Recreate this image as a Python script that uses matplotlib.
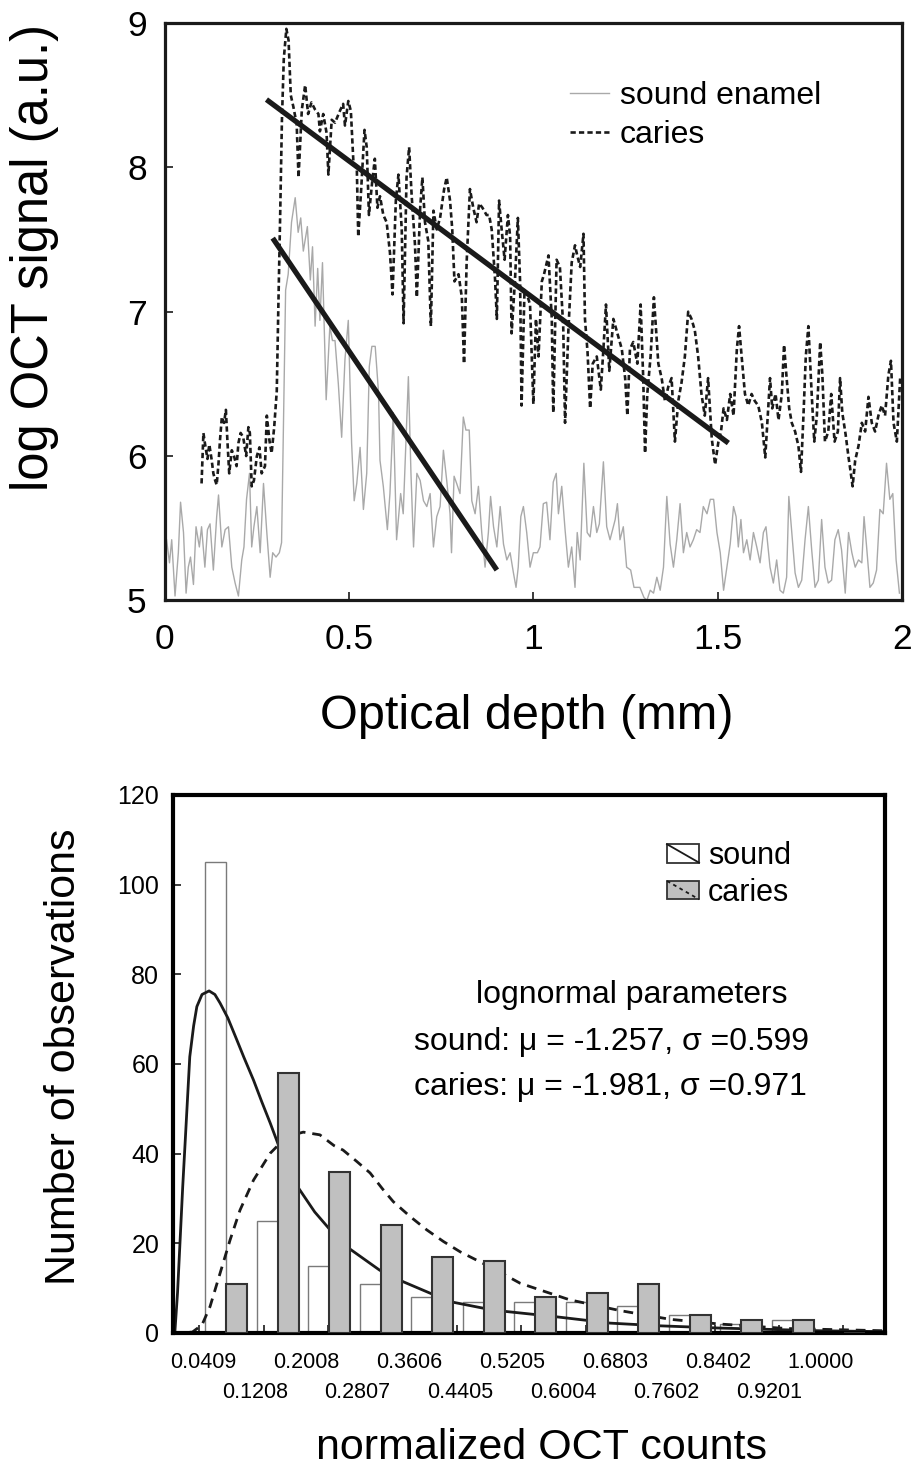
import numpy as np
import matplotlib
matplotlib.use("Agg")
import matplotlib.pyplot as plt
from matplotlib.patches import Rectangle, Patch
from matplotlib.lines import Line2D
from matplotlib.legend_handler import HandlerBase
from matplotlib.transforms import blended_transform_factory

plt.rcParams['font.family'] = ['Liberation Sans', 'DejaVu Sans']

# ---- top panel: OCT depth profiles ----
sound_depth = [0.005, 0.013, 0.019, 0.028, 0.037, 0.043, 0.051, 0.058, 0.064, 0.070,
               0.078, 0.085, 0.094, 0.100, 0.109, 0.116, 0.123, 0.132, 0.141, 0.146,
               0.155, 0.164, 0.173, 0.182, 0.191, 0.200, 0.209, 0.215, 0.222, 0.230,
               0.236, 0.242, 0.250, 0.259, 0.268, 0.277, 0.286, 0.293, 0.302, 0.311,
               0.317, 0.322, 0.328, 0.335, 0.344, 0.354, 0.362, 0.369, 0.376, 0.387,
               0.395, 0.401, 0.408, 0.415, 0.421, 0.428, 0.438, 0.448, 0.455, 0.462,
               0.471, 0.480, 0.489, 0.498, 0.507, 0.514, 0.521, 0.530, 0.539, 0.548,
               0.555, 0.562, 0.571, 0.580, 0.584, 0.593, 0.604, 0.611, 0.620, 0.629,
               0.640, 0.647, 0.661, 0.668, 0.675, 0.684, 0.693, 0.702, 0.711, 0.720,
               0.729, 0.738, 0.747, 0.756, 0.765, 0.774, 0.778, 0.785, 0.792, 0.801,
               0.810, 0.817, 0.826, 0.833, 0.842, 0.851, 0.860, 0.869, 0.878, 0.884,
               0.892, 0.901, 0.910, 0.919, 0.928, 0.937, 0.946, 0.953, 0.959, 0.966,
               0.973, 0.982, 0.991, 1.000, 1.011, 1.018, 1.027, 1.036, 1.045, 1.054,
               1.062, 1.068, 1.077, 1.086, 1.095, 1.104, 1.113, 1.119, 1.127, 1.137,
               1.146, 1.154, 1.163, 1.172, 1.179, 1.190, 1.199, 1.208, 1.222, 1.228,
               1.235, 1.244, 1.253, 1.264, 1.273, 1.289, 1.300, 1.308, 1.317, 1.326,
               1.335, 1.344, 1.353, 1.362, 1.371, 1.380, 1.389, 1.398, 1.407, 1.416,
               1.425, 1.434, 1.443, 1.452, 1.461, 1.471, 1.480, 1.489, 1.498, 1.507,
               1.516, 1.525, 1.534, 1.543, 1.550, 1.556, 1.563, 1.570, 1.579, 1.588,
               1.597, 1.606, 1.615, 1.624, 1.631, 1.642, 1.651, 1.660, 1.669, 1.678,
               1.687, 1.693, 1.701, 1.710, 1.719, 1.728, 1.737, 1.746, 1.755, 1.764,
               1.773, 1.782, 1.791, 1.800, 1.809, 1.818, 1.827, 1.836, 1.846, 1.855,
               1.864, 1.873, 1.882, 1.891, 1.897, 1.904, 1.913, 1.922, 1.931, 1.940,
               1.949, 1.958, 1.967, 1.975, 1.984, 1.993]
sound_signal = [5.42, 5.26, 5.42, 5.03, 5.33, 5.68, 5.47, 5.05, 5.23, 5.30,
                5.11, 5.51, 5.37, 5.51, 5.23, 5.49, 5.53, 5.21, 5.58, 5.73,
                5.37, 5.49, 5.51, 5.23, 5.12, 5.03, 5.28, 5.37, 5.70, 5.88,
                5.37, 5.51, 5.65, 5.33, 5.81, 5.47, 5.16, 5.33, 5.30, 5.33,
                5.40, 6.20, 7.15, 7.26, 7.62, 7.79, 7.55, 7.65, 7.42, 7.59,
                7.22, 7.45, 6.90, 7.30, 6.94, 7.34, 6.39, 6.90, 6.80, 6.80,
                6.50, 6.13, 6.67, 6.94, 6.09, 5.69, 5.81, 6.06, 5.63, 5.88,
                6.62, 6.76, 6.76, 6.44, 5.97, 5.79, 5.49, 5.74, 6.30, 5.42,
                5.74, 5.60, 6.55, 5.88, 5.37, 5.88, 5.83, 5.69, 5.65, 5.74,
                5.37, 5.58, 5.65, 6.04, 5.83, 5.60, 5.33, 5.86, 5.81, 5.74,
                6.27, 6.18, 6.18, 5.69, 5.60, 5.79, 5.47, 5.23, 5.47, 5.72,
                5.51, 5.37, 5.65, 5.39, 5.28, 5.33, 5.19, 5.09, 5.23, 5.58,
                5.65, 5.47, 5.23, 5.33, 5.33, 5.37, 5.67, 5.68, 5.42, 5.82,
                5.88, 5.60, 5.79, 5.49, 5.23, 5.37, 5.09, 5.47, 5.28, 5.95,
                5.47, 5.44, 5.65, 5.47, 5.53, 5.96, 5.51, 5.42, 5.56, 5.67,
                5.42, 5.51, 5.23, 5.21, 5.09, 5.09, 5.02, 5.00, 5.07, 5.05,
                5.16, 5.07, 5.23, 5.72, 5.39, 5.23, 5.42, 5.67, 5.33, 5.47,
                5.37, 5.42, 5.49, 5.47, 5.65, 5.60, 5.70, 5.70, 5.47, 5.33,
                5.07, 5.23, 5.39, 5.65, 5.58, 5.37, 5.56, 5.33, 5.42, 5.28,
                5.47, 5.37, 5.26, 5.47, 5.51, 5.23, 5.12, 5.28, 5.07, 5.05,
                5.16, 5.72, 5.47, 5.19, 5.09, 5.14, 5.42, 5.65, 5.35, 5.09,
                5.14, 5.56, 5.23, 5.12, 5.14, 5.42, 5.49, 5.35, 5.05, 5.47,
                5.33, 5.23, 5.28, 5.26, 5.58, 5.37, 5.09, 5.12, 5.21, 5.63,
                5.60, 5.95, 5.70, 5.74, 5.28, 5.05]

caries_depth = [0.100, 0.105, 0.109, 0.116, 0.121, 0.127, 0.132, 0.137, 0.141, 0.146,
                0.150, 0.155, 0.161, 0.166, 0.170, 0.175, 0.182, 0.188, 0.195, 0.200,
                0.206, 0.213, 0.221, 0.227, 0.231, 0.236, 0.242, 0.250, 0.257, 0.263,
                0.272, 0.277, 0.284, 0.290, 0.297, 0.304, 0.308, 0.313, 0.318, 0.323,
                0.330, 0.336, 0.342, 0.349, 0.358, 0.363, 0.372, 0.381, 0.389, 0.398,
                0.408, 0.417, 0.421, 0.430, 0.439, 0.444, 0.453, 0.462, 0.475, 0.484,
                0.489, 0.498, 0.505, 0.512, 0.521, 0.525, 0.533, 0.542, 0.548, 0.554,
                0.562, 0.570, 0.577, 0.584, 0.593, 0.602, 0.611, 0.618, 0.627, 0.634,
                0.643, 0.648, 0.656, 0.663, 0.670, 0.679, 0.684, 0.693, 0.699, 0.706,
                0.715, 0.722, 0.729, 0.738, 0.747, 0.758, 0.765, 0.774, 0.780, 0.786,
                0.797, 0.806, 0.812, 0.819, 0.828, 0.837, 0.846, 0.853, 0.862, 0.873,
                0.880, 0.887, 0.896, 0.901, 0.907, 0.914, 0.922, 0.931, 0.937, 0.941,
                0.950, 0.958, 0.964, 0.968, 0.976, 0.985, 0.991, 1.000, 1.007, 1.014,
                1.023, 1.029, 1.041, 1.050, 1.054, 1.063, 1.072, 1.081, 1.086, 1.095,
                1.104, 1.113, 1.119, 1.127, 1.136, 1.140, 1.147, 1.154, 1.161, 1.172,
                1.183, 1.190, 1.197, 1.206, 1.217, 1.228, 1.240, 1.249, 1.255, 1.262,
                1.271, 1.282, 1.291, 1.298, 1.303, 1.309, 1.318, 1.327, 1.339, 1.348,
                1.357, 1.366, 1.375, 1.384, 1.393, 1.402, 1.411, 1.420, 1.429, 1.438,
                1.447, 1.456, 1.465, 1.474, 1.484, 1.493, 1.502, 1.509, 1.516, 1.525,
                1.534, 1.543, 1.552, 1.558, 1.565, 1.574, 1.583, 1.592, 1.601, 1.610,
                1.620, 1.629, 1.636, 1.642, 1.648, 1.657, 1.665, 1.674, 1.680, 1.687,
                1.694, 1.701, 1.710, 1.719, 1.726, 1.733, 1.739, 1.746, 1.755, 1.762,
                1.769, 1.778, 1.784, 1.791, 1.800, 1.808, 1.817, 1.826, 1.832, 1.838,
                1.847, 1.855, 1.859, 1.866, 1.873, 1.882, 1.891, 1.900, 1.909, 1.918,
                1.927, 1.936, 1.945, 1.954, 1.963, 1.970, 1.977, 1.986, 1.995]
caries_signal = [5.81, 6.16, 6.09, 5.98, 6.08, 5.98, 5.88, 5.83, 5.80, 5.95,
                 6.11, 6.27, 6.23, 6.32, 6.11, 5.88, 6.04, 6.00, 5.93, 6.09,
                 6.16, 6.13, 6.00, 6.20, 6.16, 5.79, 5.83, 6.00, 6.06, 5.88,
                 5.93, 6.28, 6.11, 6.02, 6.20, 6.45, 7.00, 7.64, 8.33, 8.75,
                 8.96, 8.88, 8.50, 8.42, 8.30, 7.93, 8.40, 8.57, 8.37, 8.45,
                 8.40, 8.37, 8.25, 8.37, 8.24, 7.95, 8.33, 8.31, 8.39, 8.44,
                 8.29, 8.46, 8.39, 8.03, 8.01, 7.52, 7.85, 8.26, 8.14, 7.67,
                 7.88, 8.06, 7.72, 7.80, 7.67, 7.62, 7.41, 7.12, 7.77, 7.95,
                 7.57, 6.92, 7.93, 8.14, 7.80, 7.46, 7.10, 7.72, 7.93, 7.62,
                 7.49, 6.90, 7.70, 7.57, 7.65, 7.85, 7.93, 7.77, 7.57, 7.21,
                 7.26, 7.10, 6.64, 7.34, 7.85, 7.72, 7.62, 7.75, 7.72, 7.67,
                 7.67, 7.57, 7.23, 6.95, 7.77, 7.57, 7.36, 7.67, 7.52, 6.85,
                 7.21, 7.65, 7.21, 6.35, 7.15, 7.10, 7.05, 6.36, 6.95, 6.69,
                 7.21, 7.26, 7.39, 6.95, 6.30, 7.36, 7.31, 6.90, 6.23, 6.87,
                 7.34, 7.46, 7.39, 7.31, 7.54, 6.95, 6.72, 6.33, 6.64, 6.69,
                 6.46, 6.74, 7.05, 6.59, 6.95, 6.85, 6.74, 6.54, 6.28, 6.74,
                 6.79, 6.64, 7.05, 6.54, 6.02, 6.43, 6.69, 7.10, 6.64, 6.54,
                 6.38, 6.48, 6.54, 6.10, 6.38, 6.51, 6.69, 7.00, 6.95, 6.87,
                 6.69, 6.43, 6.28, 6.54, 6.12, 5.94, 6.10, 6.17, 6.33, 6.25,
                 6.43, 6.28, 6.74, 6.90, 6.69, 6.43, 6.35, 6.43, 6.38, 6.35,
                 6.23, 5.99, 6.28, 6.54, 6.33, 6.43, 6.25, 6.43, 6.77, 6.54,
                 6.33, 6.23, 6.17, 6.07, 5.89, 6.30, 6.69, 6.90, 6.43, 6.10,
                 6.28, 6.79, 6.56, 6.10, 6.17, 6.43, 6.10, 6.17, 6.54, 6.30,
                 6.15, 5.99, 5.92, 5.79, 5.97, 6.07, 6.23, 6.17, 6.41, 6.23,
                 6.17, 6.28, 6.35, 6.28, 6.56, 6.66, 6.23, 6.10, 6.54]

# linear fits (end points)
fit_caries_x = [0.276, 1.529]
fit_caries_y = [8.47, 6.09]
fit_sound_x = [0.293, 0.901]
fit_sound_y = [7.51, 5.21]

# ---- bottom panel: histogram of normalized OCT counts ----
bin_labels = ['0.0409', '0.1208', '0.2008', '0.2807', '0.3606', '0.4405', '0.5205',
              '0.6004', '0.6803', '0.7602', '0.8402', '0.9201', '1.0000']
sound_counts = [105, 25, 15, 11, 8, 7, 7, 7, 6, 4, 2, 3, 0]
caries_counts = [11, 58, 36, 24, 17, 16, 8, 9, 11, 4, 3, 3, 0]

# fitted lognormal curves
fit1_x = [0.0, 0.003, 0.007, 0.011, 0.015, 0.019, 0.026, 0.032, 0.037, 0.045, 0.056,
          0.065, 0.073, 0.085, 0.099, 0.110, 0.125, 0.138, 0.151, 0.170, 0.195,
          0.220, 0.244, 0.275, 0.321, 0.358, 0.430, 0.497, 0.570, 0.596, 0.679,
          0.756, 0.849, 1.005, 1.105]
fit1_y = [0.0, 0.5, 9.0, 20.7, 32.5, 43.0, 61.6, 68.5, 72.8, 75.5, 76.3,
          75.5, 73.6, 70.3, 65.4, 61.5, 56.4, 51.5, 46.8, 39.5, 32.3,
          27.0, 23.0, 18.7, 14.0, 11.4, 7.0, 5.1, 4.0, 3.6, 2.2,
          1.6, 1.1, 0.5, 0.3]
fit2_x = [0.0, 0.03, 0.045, 0.0575, 0.073, 0.0885, 0.104, 0.125, 0.151, 0.1765,
          0.2023, 0.228, 0.250, 0.264, 0.285, 0.306, 0.325, 0.342, 0.368, 0.394,
          0.420, 0.446, 0.497, 0.539, 0.570, 0.616, 0.694, 0.772, 0.849, 0.953, 1.105]
fit2_y = [0.0, 0.2, 1.8, 5.9, 13.3, 20.7, 27.4, 34.1, 40.1, 43.8,
          44.8, 44.2, 41.8, 40.8, 38.3, 35.7, 32.2, 29.3, 26.0, 23.0,
          20.4, 18.1, 14.4, 11.1, 9.6, 7.4, 5.0, 3.05, 2.0, 1.0, 0.5]

DARK = '#1a1a1a'


class DiagHandler(HandlerBase):
    # excel-style legend key: box with a diagonal line
    def __init__(self, face, edge, ls):
        super().__init__()
        self.face, self.edge, self.ls = face, edge, ls

    def create_artists(self, legend, orig_handle, xdescent, ydescent,
                       width, height, fontsize, trans):
        x0, y0 = -xdescent, -ydescent
        r = Rectangle((x0, y0), width, height, facecolor=self.face,
                      edgecolor=self.edge, lw=1.3, transform=trans)
        l = Line2D([x0, x0 + width], [y0 + height, y0], color=DARK,
                   lw=1.3, ls=self.ls, transform=trans)
        return [r, l]


fig = plt.figure(figsize=(9.15, 14.7), dpi=100)

# ================= top =================
ax1 = fig.add_axes([0.18, 0.5916, 0.8058, 0.3927])
ax1.plot(sound_depth, sound_signal, color='#a9a9a9', lw=1.0, label='sound enamel')
ax1.plot(caries_depth, caries_signal, color=DARK, lw=1.9,
         ls=(0, (2.0, 1.2)), label='caries')
ax1.plot(fit_caries_x, fit_caries_y, color=DARK, lw=3.8, solid_capstyle='butt')
ax1.plot(fit_sound_x, fit_sound_y, color=DARK, lw=3.8, solid_capstyle='butt')

ax1.set_xlim(0, 2)
ax1.set_ylim(5, 9)
ax1.set_xticks([0, 0.5, 1, 1.5, 2], ['0', '0.5', '1', '1.5', '2'])
ax1.set_yticks([5, 6, 7, 8, 9])
ax1.tick_params(direction='in', length=6, width=1.2, labelsize=25.5, color=DARK)
ax1.tick_params(axis='x', pad=16)
ax1.tick_params(axis='y', pad=13)
for s in ax1.spines.values():
    s.set_linewidth(2.3)
    s.set_color(DARK)
ax1.set_ylabel('log OCT signal (a.u.)', fontsize=36.5)
ax1.yaxis.set_label_coords(-0.143, 0.594)
ax1.set_xlabel('Optical depth (mm)', fontsize=35)
ax1.xaxis.set_label_coords(0.491, -0.163)
ax1.legend(loc='upper left', bbox_to_anchor=(0.55, 0.90), frameon=False,
           fontsize=23, handlelength=1.2, handletextpad=0.35,
           labelspacing=0.28, borderpad=0, borderaxespad=0)

# ================= bottom =================
ax2 = fig.add_axes([0.1891, 0.0932, 0.7781, 0.366])
centers = np.array([float(b) for b in bin_labels])
bw = 0.0326
ax2.bar(centers + 0.0093, sound_counts, width=bw, align='edge',
        facecolor='white', edgecolor='#7a7a7a', lw=1.0, zorder=1)
ax2.plot(fit1_x, fit1_y, color=DARK, lw=2.0, zorder=2)
ax2.plot(fit2_x, fit2_y, color=DARK, lw=2.0, ls=(0, (3.5, 2.5)), zorder=2)
ax2.bar(centers + 0.0419, caries_counts, width=bw, align='edge',
        facecolor='#c0c0c0', edgecolor='#333333', lw=1.5, zorder=3)

ax2.set_xlim(0, 1.1056)
ax2.set_ylim(0, 120)
ax2.set_yticks(range(0, 121, 20))
ax2.tick_params(axis='y', direction='in', length=6, width=1.2, labelsize=18,
                pad=10, color=DARK)
ax2.set_xticks(np.arange(0.0409, 1.05, 0.1))
ax2.tick_params(axis='x', direction='in', length=6, width=1.2, color=DARK,
                labelbottom=False)
# bin labels in two staggered rows
trans = blended_transform_factory(ax2.transData, ax2.transAxes)
for i, lab in enumerate(bin_labels):
    ax2.text(centers[i] + 0.006, -0.054 if i % 2 == 0 else -0.1115, lab,
             transform=trans, fontsize=15.5, ha='center', va='center')
for s in ax2.spines.values():
    s.set_linewidth(3.0)
    s.set_color('black')
ax2.set_ylabel('Number of observations', fontsize=31)
ax2.yaxis.set_label_coords(-0.125, 0.513)
ax2.set_xlabel('normalized OCT counts', fontsize=31)
ax2.xaxis.set_label_coords(0.5176, -0.176)

ax2.text(0.4256, 0.628, 'lognormal parameters', transform=ax2.transAxes,
         fontsize=23, va='center', ha='left')
ax2.text(0.3385, 0.541, 'sound: \u03bc = -1.257, \u03c3 =0.599',
         transform=ax2.transAxes, fontsize=23, va='center', ha='left')
ax2.text(0.3385, 0.457, 'caries: \u03bc = -1.981, \u03c3 =0.971',
         transform=ax2.transAxes, fontsize=23, va='center', ha='left')

h_sound = Patch(label='sound')
h_caries = Patch(label='caries')
ax2.legend(handles=[h_sound, h_caries], loc='upper left',
           bbox_to_anchor=(0.6938, 0.914), frameon=False, fontsize=22,
           handlelength=1.05, handleheight=0.55, handletextpad=0.3,
           labelspacing=0.22, borderpad=0, borderaxespad=0,
           handler_map={h_sound: DiagHandler('white', '#333333', '-'),
                        h_caries: DiagHandler('#c0c0c0', '#333333', (0, (2, 2)))})

fig.savefig('out.png', dpi=100)
